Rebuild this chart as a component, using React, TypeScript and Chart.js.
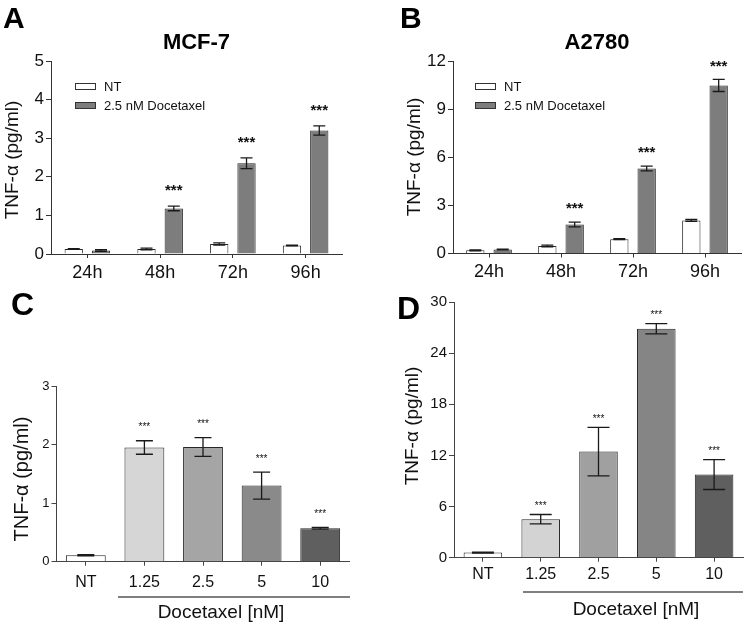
import React, { useEffect, useRef } from 'react';
import { Chart, registerables } from 'chart.js';

Chart.register(...registerables);

const FONT = '"Liberation Sans", Arial, Helvetica, sans-serif';

// ---------- Panel A : MCF-7 time course ----------
const timeLabels = ['24h', '48h', '72h', '96h'];
const mcfNT = [0.13, 0.13, 0.26, 0.22];
const mcfNTErr = [0.01, 0.02, 0.03, 0.01];
const mcfDoc = [0.09, 1.18, 2.35, 3.2];
const mcfDocErr = [0.02, 0.06, 0.14, 0.12];
const mcfDocSig = ['', '***', '***', '***'];

// ---------- Panel B : A2780 time course ----------
const a2780NT = [0.2, 0.47, 0.89, 2.06];
const a2780NTErr = [0.03, 0.05, 0.03, 0.06];
const a2780Doc = [0.25, 1.81, 5.3, 10.48];
const a2780DocErr = [0.02, 0.15, 0.15, 0.38];
const a2780DocSig = ['', '***', '***', '***'];

// ---------- Panel C / D : dose response ----------
const doseLabels = ['NT', '1.25', '2.5', '5', '10'];
const mcfDose = [0.11, 1.95, 1.96, 1.3, 0.57];
const mcfDoseErr = [0.01, 0.115, 0.16, 0.23, 0.015];
const mcfDoseSig = ['', '***', '***', '***', '***'];
const a2780Dose = [0.6, 4.52, 12.45, 26.86, 9.75];
const a2780DoseErr = [0.05, 0.55, 2.85, 0.6, 1.75];
const a2780DoseSig = ['', '***', '***', '***', '***'];

const seriesNames = ['NT', '2.5 nM Docetaxel'];
const yTitle = 'TNF-\u03b1 (pg/ml)';
const bracketLabel = 'Docetaxel [nM]';

const NT_COLOR = '#ffffff';
const DOC_COLOR = '#7d7d7d';
const doseColorsC = ['#ffffff', '#d6d6d6', '#a5a5a5', '#8a8a8a', '#5f5f5f'];
const doseColorsD = ['#ffffff', '#d3d3d3', '#a0a0a0', '#858585', '#5f5f5f'];

type DS = { label: string; data: number[]; errors: number[]; sig: string[]; color: string | string[] };
type Spec = {
  region: { x: number; y: number; w: number; h: number };
  area: { l: number; t: number; r: number; b: number };
  labels: string[];
  datasets: DS[];
  yMax: number; yStep: number;
  yTickSize: number; xTickSize: number; xTickPad: number;
  axisColor: string;
  barPct: number; catPct: number;
  title?: string;
  letter: string; letterX: number; letterY: number; letterSize: number;
  yTitleX: number; yTitleY: number; yTitleSize: number;
  legend?: { x: number; y: number };
  cap: number; starSize: number; starOffset: number; starBold: boolean;
  bracket?: { x0: number; x1: number; y: number; tx: number; ty: number };
};

const XH = 30;

const panels: Spec[] = [
  {
    region: { x: 0, y: 0, w: 373, h: 300 },
    area: { l: 51, t: 61, r: 342, b: 254 },
    labels: timeLabels,
    datasets: [
      { label: seriesNames[0], data: mcfNT, errors: mcfNTErr, sig: ['', '', '', ''], color: NT_COLOR },
      { label: seriesNames[1], data: mcfDoc, errors: mcfDocErr, sig: mcfDocSig, color: DOC_COLOR },
    ],
    yMax: 5, yStep: 1, yTickSize: 17, xTickSize: 18, xTickPad: 4, axisColor: '#333',
    barPct: 0.67, catPct: 0.75,
    title: 'MCF-7',
    letter: 'A', letterX: 3, letterY: 28, letterSize: 30,
    yTitleX: 13, yTitleY: 160, yTitleSize: 19,
    legend: { x: 75, y: 83 },
    cap: 12, starSize: 15, starOffset: 19, starBold: true,
  },
  {
    region: { x: 373, y: 0, w: 374, h: 300 },
    area: { l: 453, t: 61, r: 741, b: 253.5 },
    labels: timeLabels,
    datasets: [
      { label: seriesNames[0], data: a2780NT, errors: a2780NTErr, sig: ['', '', '', ''], color: NT_COLOR },
      { label: seriesNames[1], data: a2780Doc, errors: a2780DocErr, sig: a2780DocSig, color: DOC_COLOR },
    ],
    yMax: 12, yStep: 3, yTickSize: 17, xTickSize: 18, xTickPad: 4, axisColor: '#333',
    barPct: 0.67, catPct: 0.76,
    title: 'A2780',
    letter: 'B', letterX: 400, letterY: 28, letterSize: 30,
    yTitleX: 415, yTitleY: 157, yTitleSize: 19,
    legend: { x: 475, y: 83 },
    cap: 12, starSize: 15, starOffset: 17, starBold: true,
  },
  {
    region: { x: 0, y: 280, w: 373, h: 349 },
    area: { l: 56.5, t: 386, r: 349.5, b: 561.7 },
    labels: doseLabels,
    datasets: [
      { label: 'TNF', data: mcfDose, errors: mcfDoseErr, sig: mcfDoseSig, color: doseColorsC },
    ],
    yMax: 3, yStep: 1, yTickSize: 13, xTickSize: 16, xTickPad: 7, axisColor: '#444',
    barPct: 1, catPct: 0.68,
    letter: 'C', letterX: 11, letterY: 315, letterSize: 32,
    yTitleX: 22, yTitleY: 479, yTitleSize: 20,
    cap: 17, starSize: 10, starOffset: 16, starBold: false,
    bracket: { x0: 118, x1: 350, y: 597, tx: 221, ty: 613 },
  },
  {
    region: { x: 373, y: 280, w: 374, h: 349 },
    area: { l: 454, t: 302, r: 743, b: 557.7 },
    labels: doseLabels,
    datasets: [
      { label: 'TNF', data: a2780Dose, errors: a2780DoseErr, sig: a2780DoseSig, color: doseColorsD },
    ],
    yMax: 30, yStep: 6, yTickSize: 15, xTickSize: 16, xTickPad: 3, axisColor: '#444',
    barPct: 1, catPct: 0.667,
    letter: 'D', letterX: 397, letterY: 319, letterSize: 32,
    yTitleX: 413, yTitleY: 426, yTitleSize: 19,
    cap: 22, starSize: 10, starOffset: 11, starBold: false,
    bracket: { x0: 523, x1: 743, y: 592, tx: 636, ty: 610 },
  },
];

function overlay(spec: Spec) {
  const ox = spec.region.x;
  const oy = spec.region.y;
  return {
    id: 'overlay' + spec.letter,
    afterDatasetsDraw(chart: any) {
      const ctx: CanvasRenderingContext2D = chart.ctx;
      const ys = chart.scales.y;
      const ca = chart.chartArea;
      ctx.save();
      // error bars + significance stars
      chart.data.datasets.forEach((ds: any, di: number) => {
        const meta = chart.getDatasetMeta(di);
        meta.data.forEach((bar: any, i: number) => {
          const v = ds.data[i];
          const e = ds.errors[i];
          const x = bar.x;
          const yT = ys.getPixelForValue(v + e);
          const yB = ys.getPixelForValue(Math.max(0, v - e));
          ctx.strokeStyle = '#1a1a1a';
          ctx.lineWidth = 1.3;
          ctx.beginPath();
          ctx.moveTo(x, yT);
          ctx.lineTo(x, yB);
          ctx.moveTo(x - spec.cap / 2, yT);
          ctx.lineTo(x + spec.cap / 2, yT);
          ctx.moveTo(x - spec.cap / 2, yB);
          ctx.lineTo(x + spec.cap / 2, yB);
          ctx.stroke();
          if (ds.sig[i]) {
            ctx.fillStyle = '#111';
            ctx.font = `${spec.starBold ? 'bold ' : ''}${spec.starSize}px ${FONT}`;
            ctx.textAlign = 'center';
            ctx.textBaseline = 'alphabetic';
            const cy = yT - spec.starOffset;
            ctx.fillText(ds.sig[i], x, cy + spec.starSize * 0.55);
          }
        });
      });
      // title
      if (spec.title) {
        ctx.fillStyle = '#000';
        ctx.font = `bold 22px ${FONT}`;
        ctx.textAlign = 'center';
        ctx.textBaseline = 'middle';
        ctx.fillText(spec.title, (ca.left + ca.right) / 2, 43 - oy);
      }
      // panel letter
      ctx.fillStyle = '#000';
      ctx.font = `bold ${spec.letterSize}px ${FONT}`;
      ctx.textAlign = 'left';
      ctx.textBaseline = 'alphabetic';
      ctx.fillText(spec.letter, spec.letterX - ox, spec.letterY - oy);
      // y title
      ctx.save();
      ctx.translate(spec.yTitleX - ox, spec.yTitleY - oy);
      ctx.rotate(-Math.PI / 2);
      ctx.font = `${spec.yTitleSize}px ${FONT}`;
      ctx.fillStyle = '#111';
      ctx.textAlign = 'center';
      ctx.textBaseline = 'middle';
      ctx.fillText(yTitle, 0, 0);
      ctx.restore();
      // legend
      if (spec.legend) {
        const lx = spec.legend.x - ox;
        let ly = spec.legend.y - oy;
        chart.data.datasets.forEach((ds: any) => {
          ctx.fillStyle = ds.backgroundColor;
          ctx.fillRect(lx, ly, 21, 7);
          ctx.strokeStyle = '#333';
          ctx.lineWidth = 1;
          ctx.strokeRect(lx + 0.5, ly + 0.5, 20, 6);
          ctx.fillStyle = '#111';
          ctx.font = `13px ${FONT}`;
          ctx.textAlign = 'left';
          ctx.textBaseline = 'middle';
          ctx.fillText(ds.label, lx + 29, ly + 4);
          ly += 19;
        });
      }
      // bracket
      if (spec.bracket) {
        const b = spec.bracket;
        ctx.strokeStyle = '#555';
        ctx.lineWidth = 1.5;
        ctx.beginPath();
        ctx.moveTo(b.x0 - ox, b.y - oy);
        ctx.lineTo(b.x1 - ox, b.y - oy);
        ctx.stroke();
        ctx.fillStyle = '#111';
        ctx.font = `19px ${FONT}`;
        ctx.textAlign = 'center';
        ctx.textBaseline = 'middle';
        ctx.fillText(bracketLabel, b.tx - ox, b.ty - oy);
      }
      ctx.restore();
    },
  };
}

function makeConfig(spec: Spec): any {
  const r = spec.region;
  const a = spec.area;
  return {
    type: 'bar',
    data: {
      labels: spec.labels,
      datasets: spec.datasets.map((d) => ({
        label: d.label,
        data: d.data,
        errors: d.errors,
        sig: d.sig,
        backgroundColor: d.color,
        borderColor: '#262626',
        borderWidth: 1,
        barPercentage: spec.barPct,
        categoryPercentage: spec.catPct,
      })),
    },
    options: {
      responsive: false,
      maintainAspectRatio: false,
      animation: false,
      devicePixelRatio: 1,
      layout: {
        padding: {
          left: 0,
          top: a.t - r.y,
          right: r.x + r.w - a.r,
          bottom: r.y + r.h - a.b - XH,
        },
      },
      plugins: {
        legend: { display: false },
        tooltip: { enabled: false },
        title: { display: false },
      },
      scales: {
        x: {
          type: 'category',
          offset: true,
          grid: {
            offset: false,
            drawOnChartArea: false,
            drawTicks: true,
            tickLength: 4,
            color: spec.axisColor,
            lineWidth: 1,
          },
          border: { display: true, color: spec.axisColor, width: 1 },
          ticks: {
            font: { family: FONT, size: spec.xTickSize },
            color: '#111',
            padding: spec.xTickPad,
            maxRotation: 0,
            autoSkip: false,
          },
          afterFit: (s: any) => {
            s.height = XH;
          },
        },
        y: {
          min: 0,
          max: spec.yMax,
          ticks: {
            stepSize: spec.yStep,
            font: { family: FONT, size: spec.yTickSize },
            color: '#111',
            padding: 2,
          },
          grid: {
            drawOnChartArea: false,
            drawTicks: true,
            tickLength: 5,
            color: spec.axisColor,
            lineWidth: 1,
          },
          border: { display: true, color: spec.axisColor, width: 1 },
          afterFit: (s: any) => {
            s.width = a.l - r.x;
          },
        },
      },
    },
    plugins: [overlay(spec)],
  };
}

function Panel({ spec }: { spec: Spec }) {
  const ref = useRef<HTMLCanvasElement>(null);
  useEffect(() => {
    if (!ref.current) return;
    const chart = new Chart(ref.current, makeConfig(spec));
    return () => chart.destroy();
  }, [spec]);
  const r = spec.region;
  return (
    <canvas
      ref={ref}
      width={r.w}
      height={r.h}
      style={{ position: 'absolute', left: r.x, top: r.y, width: r.w, height: r.h, display: 'block' }}
    />
  );
}

export default function App() {
  return (
    <div
      style={{
        position: 'absolute',
        left: 0,
        top: 0,
        width: 747,
        height: 629,
        background: '#ffffff',
        overflow: 'hidden',
      }}
    >
      {panels.map((p) => (
        <Panel key={p.letter} spec={p} />
      ))}
    </div>
  );
}
